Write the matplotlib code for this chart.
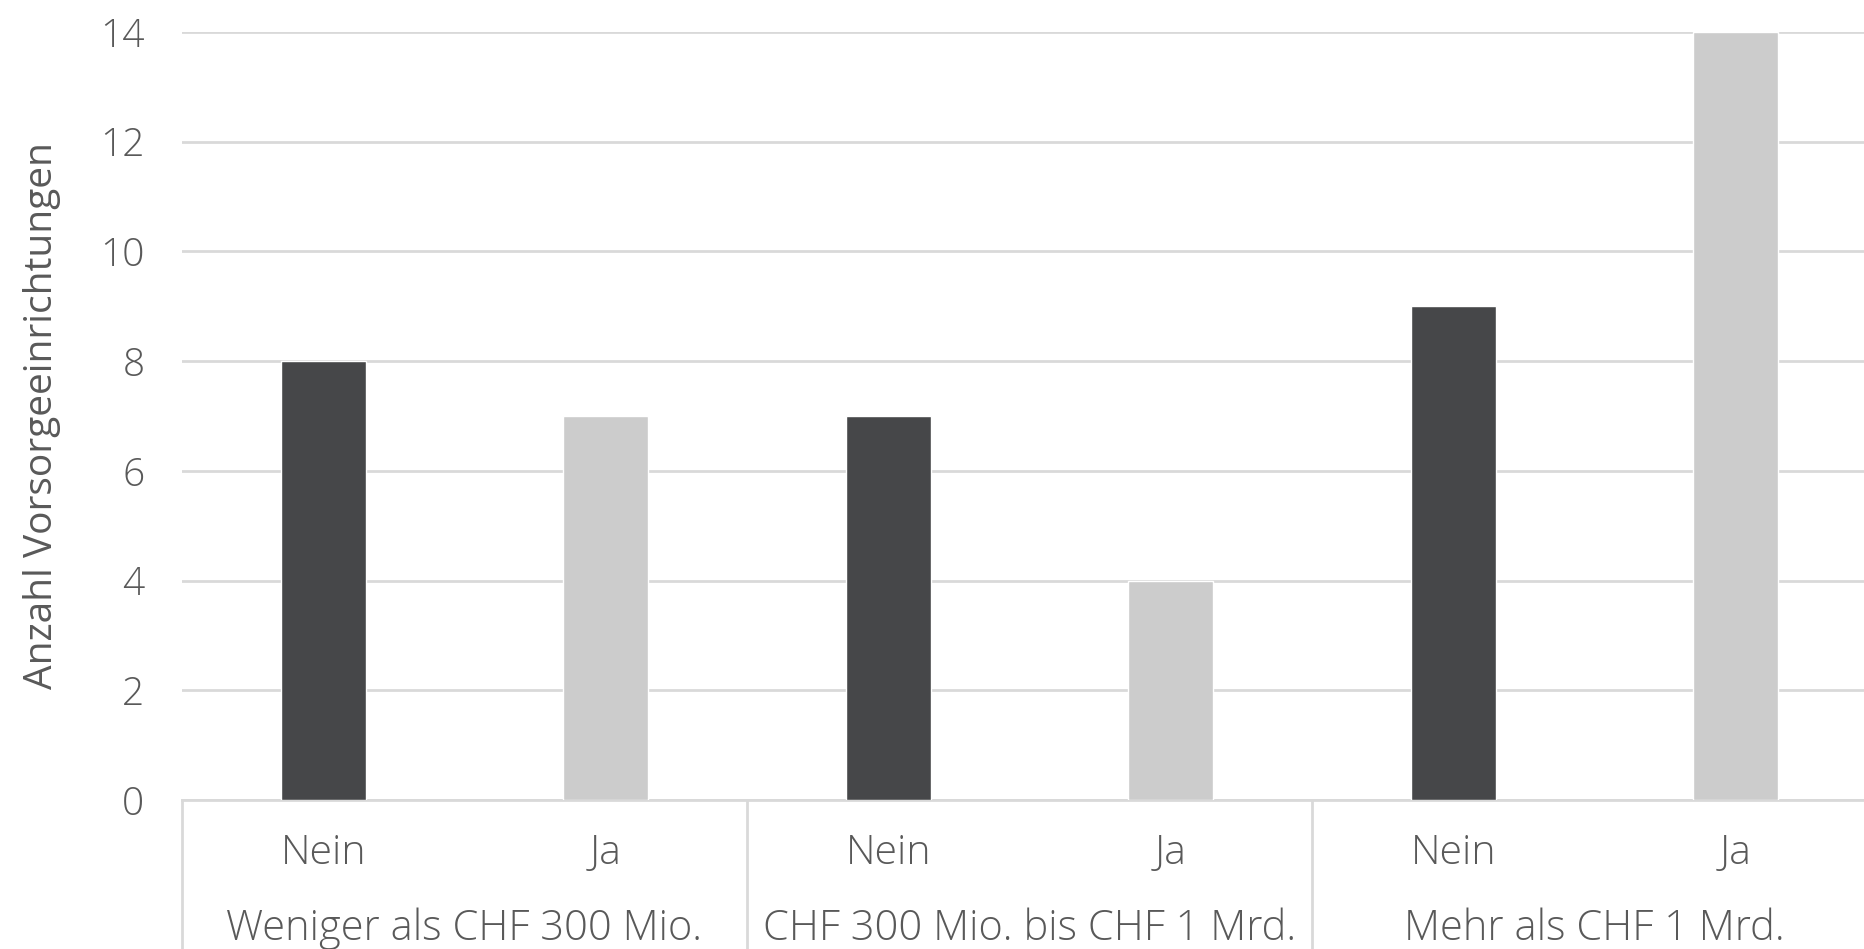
import numpy as np
import matplotlib.pyplot as plt

# Daten
groups = ["Weniger als CHF 300 Mio.", "CHF 300 Mio. bis CHF 1 Mrd.", "Mehr als CHF 1 Mrd."]
answers = ["Nein", "Ja"]
nein_values = [8, 7, 9]
ja_values = [7, 4, 14]
yticks = [0, 2, 4, 6, 8, 10, 12, 14]
ylabel = "Anzahl Vorsorgeeinrichtungen"

text_color = "#595959"
grid_color = "#d9d9d9"
dark = "#464749"
light = "#cccccc"
fs = 28

plt.rcParams['font.family'] = ['Open Sans', 'DejaVu Sans']
plt.rcParams['font.weight'] = 'light'

fig = plt.figure(figsize=(18.64, 9.49), dpi=100)
W, H = 1864, 949
left, right, bottom, top = 182, 1877, 800, 32
ax = fig.add_axes([left / W, 1 - bottom / H, (right - left) / W, (bottom - top) / H])

n = len(groups)
x_nein = np.arange(n) * 2
x_ja = x_nein + 1
ax.bar(x_nein, nein_values, width=0.3, color=dark, edgecolor="white", linewidth=1, zorder=3)
ax.bar(x_ja, ja_values, width=0.3, color=light, edgecolor="white", linewidth=1, zorder=3)

ax.set_xlim(-0.5, 2 * n - 0.5)
ax.set_ylim(0, 14)
ax.set_yticks(yticks)
ax.yaxis.grid(True, color=grid_color, linewidth=2)
ax.set_axisbelow(True)
for s in ["top", "right", "left"]:
    ax.spines[s].set_visible(False)
ax.spines["bottom"].set_color(grid_color)
ax.spines["bottom"].set_linewidth(2)
ax.tick_params(axis="y", length=0, labelsize=fs, labelcolor=text_color, pad=27)
ax.set_xticks([])
ax.set_ylabel(ylabel, fontsize=fs, color=text_color, labelpad=28)

trans = ax.get_xaxis_transform()
# Gruppentrennlinien
for b in np.arange(n + 1) * 2 - 0.5:
    ax.plot([b, b], [0, -0.3], transform=trans, color=grid_color, linewidth=2, clip_on=False)

# Beschriftungen
for i in range(n):
    for j, a in enumerate(answers):
        ax.text(2 * i + j, -0.070, a, transform=trans, ha="center", va="center",
                fontsize=29.5, color=text_color)
    ax.text(2 * i + 0.5, -0.167, groups[i], transform=trans, ha="center", va="center",
            fontsize=30, color=text_color)

fig.savefig("out.png", dpi=100)
